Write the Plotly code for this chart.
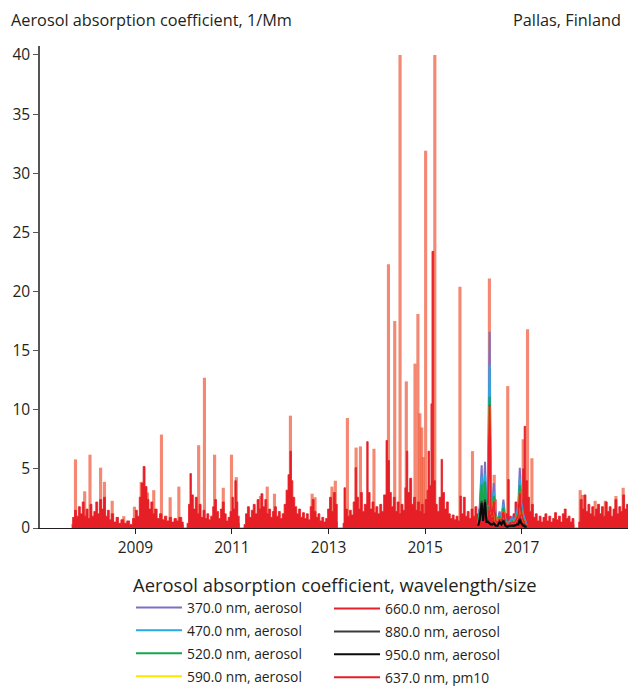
import plotly.graph_objects as go

# ---------------- data (decimal years, 1/Mm) ----------------
# 637.0 nm, pm10 : dense long-term record (drawn as a filled red band)
pm10_years = [
    2007.68, 2007.70, 2007.74, 2007.78, 2007.82, 2007.86, 2007.90, 2007.94, 2007.98, 2008.02,
    2008.06, 2008.10, 2008.14, 2008.18, 2008.22, 2008.26, 2008.30, 2008.34, 2008.38, 2008.42,
    2008.46, 2008.50, 2008.55, 2008.60, 2008.65, 2008.70, 2008.76, 2008.82, 2008.88, 2008.94,
    2009.00, 2009.04, 2009.08, 2009.12, 2009.16, 2009.20, 2009.24, 2009.28, 2009.32, 2009.36,
    2009.40, 2009.45, 2009.50, 2009.55, 2009.60, 2009.65, 2009.70, 2009.75, 2009.80, 2009.85,
    2009.90, 2009.96, 2009.99, 2009.995, 2010.065,
    2010.07, 2010.10, 2010.13, 2010.16, 2010.20, 2010.24, 2010.28, 2010.32, 2010.36, 2010.40,
    2010.44, 2010.48, 2010.52, 2010.56, 2010.60, 2010.64, 2010.68, 2010.72, 2010.76, 2010.80,
    2010.84, 2010.88, 2010.92, 2010.96, 2011.00, 2011.03, 2011.06, 2011.09, 2011.12, 2011.15,
    2011.155, 2011.245,
    2011.25, 2011.28, 2011.32, 2011.36, 2011.40, 2011.44, 2011.48, 2011.52, 2011.56, 2011.60,
    2011.64, 2011.68, 2011.72, 2011.76, 2011.80, 2011.84, 2011.88, 2011.92, 2011.96, 2012.00,
    2012.04, 2012.08, 2012.12, 2012.16, 2012.20, 2012.23, 2012.26, 2012.30, 2012.34, 2012.38,
    2012.42, 2012.46, 2012.50, 2012.54, 2012.58, 2012.62, 2012.66, 2012.70, 2012.74, 2012.78,
    2012.82, 2012.86, 2012.90, 2012.94, 2012.98, 2013.02, 2013.06, 2013.10, 2013.14, 2013.18,
    2013.185, 2013.295,
    2013.30, 2013.32, 2013.35, 2013.39, 2013.43, 2013.47, 2013.51, 2013.55, 2013.58, 2013.62,
    2013.66, 2013.70, 2013.74, 2013.79, 2013.82, 2013.86, 2013.90, 2013.94, 2013.98, 2014.02,
    2014.06, 2014.10, 2014.14, 2014.19, 2014.22, 2014.26, 2014.30, 2014.34, 2014.38, 2014.42,
    2014.46, 2014.50, 2014.54, 2014.58, 2014.61, 2014.64, 2014.68, 2014.72, 2014.76, 2014.80,
    2014.84, 2014.88, 2014.92, 2014.96, 2015.00, 2015.04, 2015.06, 2015.09, 2015.12, 2015.135,
    2015.15, 2015.17, 2015.21, 2015.25, 2015.29, 2015.33, 2015.36, 2015.40, 2015.44, 2015.48,
    2015.52, 2015.56, 2015.60, 2015.64, 2015.68, 2015.72, 2015.75, 2015.79, 2015.83, 2015.87,
    2015.91, 2015.95, 2015.99, 2016.03, 2016.07, 2016.11, 2016.15, 2016.19, 2016.23, 2016.27,
    2016.30, 2016.335, 2016.36, 2016.40, 2016.43, 2016.47, 2016.51, 2016.55, 2016.59, 2016.63,
    2016.67, 2016.71, 2016.74, 2016.78, 2016.82, 2016.86, 2016.90, 2016.94, 2016.98, 2017.02,
    2017.05, 2017.08, 2017.12, 2017.16, 2017.20, 2017.24, 2017.28, 2017.32, 2017.36, 2017.40,
    2017.44, 2017.48, 2017.52, 2017.56, 2017.60, 2017.64, 2017.68, 2017.72, 2017.76, 2017.80,
    2017.84, 2017.88, 2017.92, 2017.96, 2018.00, 2018.04, 2018.08, 2018.085, 2018.175,
    2018.18, 2018.21, 2018.25, 2018.29, 2018.33, 2018.37, 2018.41, 2018.45, 2018.49, 2018.53,
    2018.57, 2018.61, 2018.65, 2018.69, 2018.73, 2018.77, 2018.81, 2018.85, 2018.89, 2018.93,
    2018.97, 2019.01, 2019.05, 2019.09, 2019.13, 2019.17, 2019.21,
]
pm10_values = [
    0.3, 0.9, 1.5, 1.0, 1.8, 1.2, 2.2, 1.0, 1.6, 0.8,
    2.0, 1.0, 1.4, 2.2, 1.2, 2.4, 1.6, 2.6, 1.0, 1.5,
    0.7, 1.2, 0.5, 0.9, 0.4, 0.7, 0.4, 0.6, 0.3, 0.8,
    1.5, 1.0, 2.6, 3.8, 5.2, 3.5, 2.4, 1.6, 2.2, 1.2,
    1.6, 0.8, 1.2, 0.7, 1.0, 0.6, 0.9, 0.5, 0.8, 0.6,
    0.9, 0.5, 0.3, 0.0, 0.0,
    0.4, 2.0, 4.6, 2.8, 1.6, 2.6, 1.2, 2.0, 0.9, 1.5,
    0.8, 1.2, 0.7, 1.0, 1.8, 2.4, 1.4, 0.8, 1.6, 2.2,
    1.2, 0.6, 0.9, 1.4, 2.6, 1.6, 4.0, 2.2, 1.0, 0.4,
    0.0, 0.0,
    0.3, 1.2, 1.8, 0.9, 1.5, 2.0, 1.2, 2.4, 1.6, 2.9,
    1.8, 2.4, 1.2, 1.6, 0.9, 1.4, 1.8, 1.0, 1.4, 0.8,
    1.2, 2.0, 3.2, 4.5, 6.5, 4.0, 2.6, 1.8, 1.2, 1.6,
    0.9, 1.3, 0.8, 1.2, 0.7, 1.8, 2.4, 1.4, 0.9, 1.2,
    0.6, 0.9, 0.5, 0.8, 1.6, 2.6, 1.4, 3.0, 2.0, 0.5,
    0.0, 0.0,
    0.4, 3.4, 1.6, 1.0, 1.5, 1.1, 2.2, 5.1, 2.6, 1.6,
    3.0, 1.4, 2.0, 7.3, 3.0, 1.6, 2.2, 1.3, 1.8, 1.2,
    2.0, 1.4, 2.8, 7.4, 5.7, 3.0, 1.8, 2.6, 1.4, 2.2,
    1.2, 2.0, 1.5, 3.4, 6.5, 3.0, 4.2, 2.0, 2.6, 1.5,
    2.2, 1.4, 2.0, 1.2, 2.4, 3.2, 6.5, 3.6, 10.5, 4.0,
    23.4, 4.0, 2.0, 1.4, 2.6, 5.8, 3.0, 1.6, 2.2, 1.2,
    0.8, 1.1, 0.7, 1.0, 0.6, 2.7, 1.2, 2.6, 1.0, 1.4,
    0.8, 1.6, 1.0, 1.8, 1.2, 1.6, 2.2, 1.4, 2.4, 1.0,
    2.0, 2.4, 2.4, 1.6, 2.4, 0.8, 0.6, 0.9, 0.5, 0.8,
    1.2, 4.1, 1.0, 0.6, 1.2, 2.2, 1.0, 1.6, 2.4, 5.0,
    8.6, 4.0, 2.6, 1.4, 2.0, 0.9, 1.2, 0.6, 1.0, 0.5,
    0.9, 1.2, 0.6, 1.0, 0.5, 0.8, 1.3, 0.7, 1.0, 0.5,
    1.2, 1.6, 0.8, 1.0, 0.5, 0.8, 0.3, 0.0, 0.0,
    0.5, 2.4, 1.6, 2.8, 1.4, 2.0, 1.2, 1.8, 1.0, 1.6,
    2.0, 1.2, 1.8, 1.0, 2.2, 1.4, 1.8, 1.0, 1.6, 2.4,
    1.2, 1.8, 1.4, 2.8, 1.6, 2.0, 1.5,
]

# 637.0 nm, pm10 : isolated high episodes (lighter spikes)
spike_years = [
    2007.76, 2007.95, 2008.06, 2008.28, 2008.36, 2008.52, 2008.76, 2008.98, 2009.12, 2009.25,
    2009.38, 2009.54, 2009.72, 2009.90, 2010.31, 2010.43, 2010.64, 2010.82, 2010.99, 2011.09,
    2011.59, 2011.73, 2011.88, 2012.21, 2012.66, 2012.72, 2013.07, 2013.14, 2013.39, 2013.57,
    2013.66, 2013.94, 2014.24, 2014.37, 2014.48, 2014.61, 2014.79, 2014.85, 2014.89, 2014.93,
    2014.96, 2015.01, 2015.16, 2015.20, 2015.72, 2015.98, 2016.33, 2016.43, 2016.71, 2017.03,
    2017.12, 2017.21, 2018.21, 2018.26, 2018.52, 2018.73, 2018.95, 2019.10,
]
spike_values = [
    5.8, 3.1, 6.2, 5.1, 3.9, 2.3, 1.0, 1.8, 3.9, 3.0,
    3.2, 7.9, 2.6, 3.5, 7.0, 12.7, 6.2, 3.4, 6.2, 4.3,
    2.7, 3.5, 2.9, 9.5, 2.9, 2.6, 3.5, 4.0, 9.3, 6.8,
    6.9, 6.7, 22.3, 17.5, 40.0, 12.4, 13.9, 18.1, 9.7, 8.5,
    6.0, 31.9, 23.4, 40.0, 20.4, 6.5, 21.1, 4.5, 12.0, 7.5,
    16.8, 5.9, 3.2, 2.8, 2.3, 2.3, 2.7, 3.4,
]

# multi-wavelength aerosol record (2016-2017)
mw_years = [
    2016.10, 2016.13, 2016.17, 2016.20, 2016.24, 2016.27, 2016.30, 2016.335, 2016.36, 2016.39,
    2016.42, 2016.46, 2016.50, 2016.54, 2016.58, 2016.62, 2016.66, 2016.70, 2016.75, 2016.80,
    2016.85, 2016.90, 2016.93, 2016.96, 2016.99, 2017.03, 2017.07, 2017.10,
]
abs_370 = [0.4, 1.8, 5.3, 1.4, 5.6, 1.2, 3.2, 16.6, 2.6, 1.8, 3.8, 1.0, 0.6, 1.4, 0.7, 2.4, 0.8, 0.4, 0.6, 0.9, 0.6, 1.4, 2.0, 5.1, 2.2, 1.2, 0.6, 0.3]
abs_470 = [0.3, 1.5, 4.4, 1.2, 4.6, 1.0, 2.6, 13.8, 2.1, 1.5, 3.1, 0.8, 0.5, 1.1, 0.6, 2.0, 0.7, 0.3, 0.5, 0.7, 0.5, 1.1, 1.6, 4.2, 1.8, 1.0, 0.5, 0.2]
abs_520 = [0.3, 1.3, 3.7, 1.0, 3.9, 0.8, 2.2, 11.1, 1.8, 1.3, 2.7, 0.7, 0.4, 1.0, 0.5, 1.7, 0.6, 0.3, 0.4, 0.6, 0.4, 1.0, 1.4, 3.6, 1.5, 0.8, 0.4, 0.2]
abs_590 = [None, None, None, None, None, None, 1.9, 10.3, 1.5, 1.0, 2.3, 0.6, 0.4, 0.8, 0.4, 1.4, 0.5, 0.2, 0.4, 0.5, 0.4, 0.8, 1.1, 3.0, 1.3, 0.7, 0.3, 0.2]
abs_660 = [None, None, None, None, None, None, 1.9, 10.4, 1.5, 1.0, 2.3, 0.6, 0.4, 0.8, 0.4, 1.4, 0.5, 0.2, 0.4, 0.5, 0.4, 0.8, 1.1, 3.0, 1.3, 0.7, 0.3, 0.2]
abs_880 = [0.2, 0.8, 2.3, 0.7, 2.4, 0.5, 0.6, 0.4, 0.3, 0.3, 0.4, 0.2, 0.2, 0.5, 0.3, 0.7, 0.2, 0.1, 0.2, 0.2, 0.2, 0.3, 0.4, 0.8, 0.4, 0.3, 0.2, 0.1]
abs_950 = [0.2, 0.7, 2.1, 0.6, 2.2, 0.5, 0.5, 0.4, 0.3, 0.3, 0.4, 0.2, 0.2, 0.5, 0.3, 0.6, 0.2, 0.1, 0.2, 0.2, 0.2, 0.3, 0.3, 0.7, 0.4, 0.2, 0.1, 0.1]

mw_names = ["370.0 nm, aerosol", "470.0 nm, aerosol", "520.0 nm, aerosol", "590.0 nm, aerosol",
            "660.0 nm, aerosol", "880.0 nm, aerosol", "950.0 nm, aerosol"]
mw_series = [abs_370, abs_470, abs_520, abs_590, abs_660, abs_880, abs_950]
mw_colors = ["#7b70c2", "#27aae1", "#19a54b", "#ffe500", "#e8202a", "#3a3a3a", "#0a0a0a"]
pm10_name = "637.0 nm, pm10"

x_ticks = [2009, 2011, 2013, 2015, 2017]
y_ticks = [0, 5, 10, 15, 20, 25, 30, 35, 40]

RED = "#e61e26"
FONT = "Open Sans"

fig = go.Figure()

# lighter high episodes (behind)
fig.add_trace(go.Bar(x=spike_years, y=spike_values, width=0.065,
                     marker=dict(color="rgba(240,90,60,0.72)", line=dict(width=0)),
                     showlegend=False, hoverinfo="skip"))
# dense pm10 record
fig.add_trace(go.Scatter(x=pm10_years, y=pm10_values, mode="lines", fill="tozeroy",
                         line=dict(color=RED, width=0.8, shape="hv"), fillcolor=RED,
                         showlegend=False, hoverinfo="skip"))

# multi-wavelength aerosol lines
for i, (nm, vals, col) in enumerate(zip(mw_names, mw_series, mw_colors)):
    leg = "legend" if i < 4 else "legend2"
    fig.add_trace(go.Scatter(x=mw_years, y=vals, mode="lines", name=nm,
                             line=dict(color=col, width=2),
                             legend=leg, legendrank=i + 1, legendgroup=nm))

# legend entry for pm10 record
fig.add_trace(go.Scatter(x=[None], y=[None], mode="lines", name=pm10_name,
                         line=dict(color=RED, width=2), legend="legend2",
                         legendrank=10, legendgroup=pm10_name))

W, H = 628, 686
L, R, T, B = 40, 0, 46, 158
pw, ph = W - L - R, H - T - B

def px_x(px):
    return (px - L) / pw

def px_y(py):
    return (H - B - py) / ph

fig.update_layout(
    width=W, height=H,
    margin=dict(l=L, r=R, t=T, b=B, autoexpand=False),
    paper_bgcolor="white", plot_bgcolor="white",
    font=dict(family=FONT, size=15, color="#231f20"),
    barmode="overlay",
    xaxis=dict(range=[2007.025, 2019.2], tickvals=x_ticks, ticktext=[str(v) for v in x_ticks],
               showgrid=False, zeroline=False, showline=True, linecolor="#231f20", linewidth=1.2,
               ticks="outside", ticklen=5, tickcolor="#231f20", tickwidth=1.2,
               tickfont=dict(size=15.5)),
    yaxis=dict(range=[0, 40.76], tickvals=y_ticks, showgrid=False, zeroline=False,
               showline=True, linecolor="#555555", linewidth=1.5,
               ticks="outside", ticklen=5, tickcolor="#555555", tickwidth=1.2,
               tickfont=dict(size=15.5)),
    legend=dict(x=px_x(131), y=px_y(568), xanchor="left", yanchor="top",
                title=dict(text="Aerosol absorption coefficient, wavelength/size",
                           font=dict(size=18.4)),
                font=dict(size=13.8), bgcolor="rgba(0,0,0,0)", tracegroupgap=2,
                itemwidth=46),
    legend2=dict(x=px_x(329), y=px_y(593), xanchor="left", yanchor="top",
                 font=dict(size=13.8), bgcolor="rgba(0,0,0,0)", tracegroupgap=2,
                 itemwidth=46),
    annotations=[
        dict(text="Aerosol absorption coefficient, 1/Mm", x=px_x(9), y=px_y(20),
             xref="paper", yref="paper", xanchor="left", yanchor="middle",
             showarrow=False, font=dict(size=16.3)),
        dict(text="Pallas, Finland", x=px_x(623), y=px_y(20),
             xref="paper", yref="paper", xanchor="right", yanchor="middle",
             showarrow=False, font=dict(size=16.3)),
    ],
)

fig.write_html("out.html")
